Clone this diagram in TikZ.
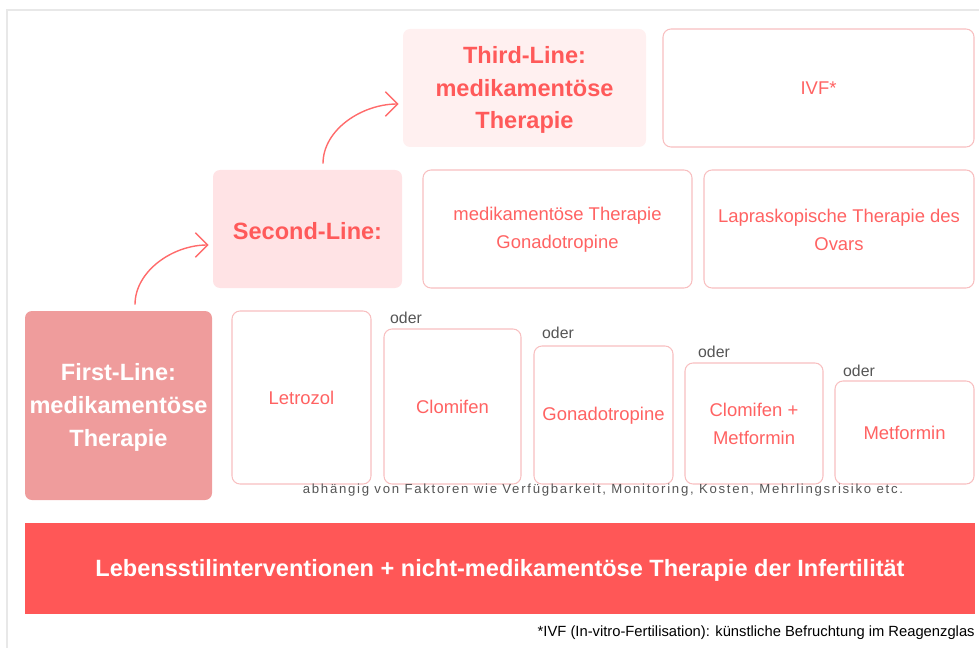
\documentclass[tikz,border=0pt]{standalone}
\usepackage{fontspec}
\setmainfont{Liberation Sans}
\newfontfamily\spacedfont[LetterSpace=13]{Liberation Sans}
\usetikzlibrary{fit, arrows.meta}

\definecolor{titlered}{HTML}{FF5A5A}
\definecolor{textred}{HTML}{FF6262}
\definecolor{cardline}{HTML}{F8BFC0}
\definecolor{firstfill}{HTML}{EF9C9C}
\definecolor{secondfill}{HTML}{FFE3E5}
\definecolor{thirdfill}{HTML}{FFF0F0}
\definecolor{barred}{HTML}{FF5757}
\definecolor{notegray}{HTML}{555555}
\definecolor{framegray}{HTML}{E8E8E8}

\begin{document}
\begin{tikzpicture}[x=0.02cm, y=-0.02cm,
  card/.style={draw=cardline, line width=0.6pt, rounded corners=0.16cm, inner sep=0pt,
    label={[cardtext]center:#1}},
  cardtext/.style={align=center, text=textred, yshift=-0.01cm,
    font=\fontsize{10.5}{16}\selectfont},
  stage/.style={rounded corners=0.14cm, inner sep=0pt, label={[stagetext]center:#1}},
  whitestage/.style={inner sep=0pt, label={[stagetext, text=white]center:#1}},
  stagetext/.style={align=center, text=titlered, yshift=-0.04cm,
    font=\bfseries\fontsize{13.4}{18.7}\selectfont},
  note/.style={text=notegray, font=\fontsize{9}{11}\selectfont},
  flow/.style={-{Straight Barb[length=7pt,width=14pt]}, draw=titlered!90, line width=0.8pt,
    shorten <=0.12cm, shorten >=0.08cm}]
\useasboundingbox (0,0) rectangle (979,648);
\draw[framegray, line width=0.6pt] (7,648) -- (7,10) -- (979,10);

% stufen
\node[whitestage={First-Line:\\medikamentöse\\Therapie}, rounded corners=0.14cm, fill=firstfill,
  fit={(25,311) (212,500)}] (first) {};
\node[stage={Second-Line:}, fill=secondfill, fit={(213,170) (402,288)}] (second) {};
\node[stage={Third-Line:\\medikamentöse\\Therapie}, fill=thirdfill, fit={(403,29) (646,147)}] (third) {};

% optionen
\node[card={IVF*}, fit={(663,29) (974,147)}] (ivf) {};
\node[card={medikamentöse Therapie\\Gonadotropine}, fit={(423,170) (692,288)}] (gonado2) {};
\node[card={Lapraskopische Therapie des\\Ovars}, fit={(704,170) (974,288)}] (ovar) {};
\node[card={Letrozol}, fit={(232,311) (371,484)}] (letrozol) {};
\node[card={Clomifen}, fit={(384,329) (521,484)}] (clomifen) {};
\node[card={Gonadotropine}, fit={(534,346) (673,484)}] (gonado1) {};
\node[card={Clomifen +\\Metformin}, fit={(685,363) (823,484)}] (kombi) {};
\node[card={Metformin}, fit={(835,381) (974,484)}] (metformin) {};

\node[note] (oder1) at (406,318) {oder};
\node[note] (oder2) at (558,333) {oder};
\node[note] (oder3) at (714,352) {oder};
\node[note] (oder4) at (859,371) {oder};
\node[text=notegray, font=\spacedfont\fontsize{7.5}{9}\selectfont] (faktoren) at (603,490)
  {abhängig von Faktoren wie Verfügbarkeit, Monitoring, Kosten, Mehrlingsrisiko etc.};

% basis
\node[whitestage={Lebensstilinterventionen + nicht-medikamentöse Therapie der Infertilität},
  fill=barred, fit={(25,523) (975,614)}] (basis) {};
\node[anchor=east, inner sep=0pt, text=black, font=\fontsize{8.4}{10}\selectfont] (fussnote) at (975,633)
  {*IVF (In-vitro-Fertilisation): künstliche Befruchtung im Reagenzglas};

\draw[flow] ([xshift=0.33cm]first.north) to[out=90, in=180] ([yshift=-0.32cm]second.west);
\draw[flow] ([xshift=0.31cm]second.north) to[out=90, in=180] ([yshift=-0.32cm]third.west);
\end{tikzpicture}
\end{document}
